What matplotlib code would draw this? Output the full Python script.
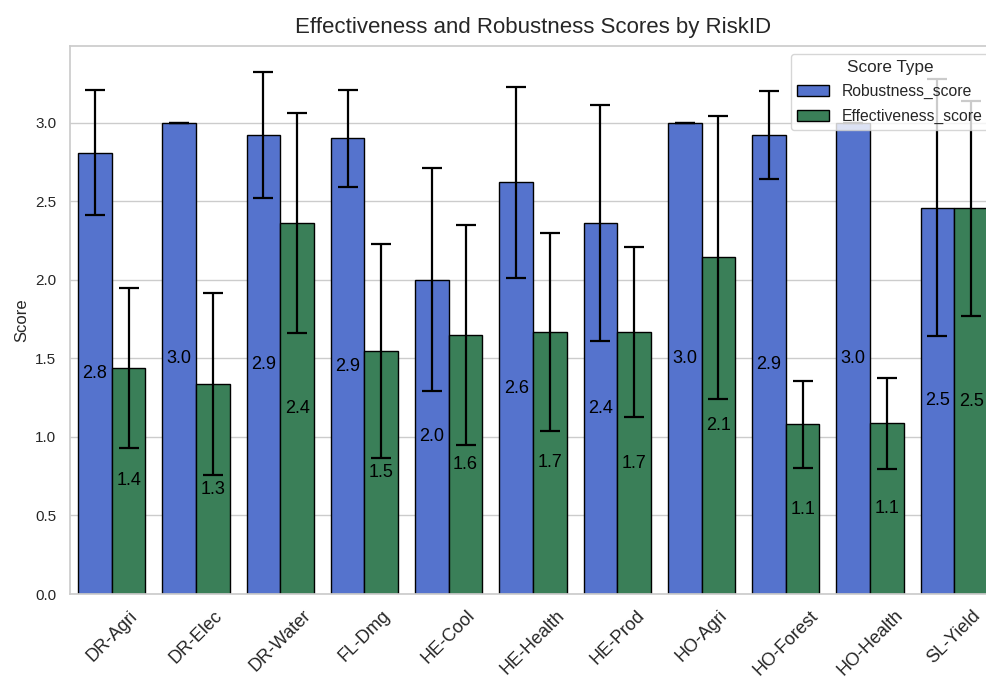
import matplotlib
matplotlib.use("Agg")
from matplotlib import pyplot as plt
import numpy as np
import seaborn as sns

# mean scores per risk with their error half-widths
risk_ids = ["DR-Agri", "DR-Elec", "DR-Water", "FL-Dmg", "HE-Cool", "HE-Health",
            "HE-Prod", "HO-Agri", "HO-Forest", "HO-Health", "SL-Yield"]
robustness = [2.81, 3.0, 2.92, 2.90, 2.00, 2.62, 2.36, 3.0, 2.92, 3.0, 2.46]
robustness_err = [0.40, 0.0, 0.40, 0.31, 0.71, 0.61, 0.75, 0.0, 0.28, 0.0, 0.82]
effectiveness = [1.44, 1.335, 2.36, 1.545, 1.646, 1.67, 1.666, 2.144, 1.08, 1.086, 2.455]
effectiveness_err = [0.51, 0.58, 0.70, 0.68, 0.70, 0.63, 0.54, 0.90, 0.276, 0.289, 0.685]
series_names = ["Robustness_score", "Effectiveness_score"]

sns.set_theme(style="whitegrid")
plt.rcParams["font.family"] = ["Liberation Sans", "DejaVu Sans"]

fig = plt.figure(figsize=(9.87, 6.86), dpi=100)
ax = fig.add_axes([69.6 / 987, 92 / 686, 926.8 / 987, 548.3 / 686])

x = np.arange(len(risk_ids))
w = 0.4
err_style = dict(ecolor="black", elinewidth=1.6, capthick=1.6, zorder=3)

b1 = ax.bar(x - w / 2, robustness, w, yerr=robustness_err, capsize=7,
            color="#5573CD", edgecolor="black", linewidth=1,
            label=series_names[0], error_kw=err_style)
b2 = ax.bar(x + w / 2, effectiveness, w, yerr=effectiveness_err, capsize=7,
            color="#3A7F58", edgecolor="black", linewidth=1,
            label=series_names[1], error_kw=err_style)

for bars in (b1, b2):
    ax.bar_label(bars, fmt="%.1f", label_type="center", fontsize=13, color="black")

ax.set_xlim(-0.5, len(risk_ids) - 0.5)
ax.set_ylim(0, 3.49)
ax.set_yticks(np.arange(0, 3.01, 0.5))
ax.set_xticks(x)
ax.set_xticklabels(risk_ids, rotation=45, fontsize=13)
ax.tick_params(axis="y", labelsize=11)
ax.grid(axis="x", visible=False)
ax.set_xlabel("")
ax.set_ylabel("Score", fontsize=12)
ax.set_title("Effectiveness and Robustness Scores by RiskID", fontsize=16, pad=9)

ax.legend(title="Score Type", loc="upper right", fontsize=11.3, title_fontsize=12.3,
          labelspacing=0.6)

fig.savefig("out.png", dpi=100)
